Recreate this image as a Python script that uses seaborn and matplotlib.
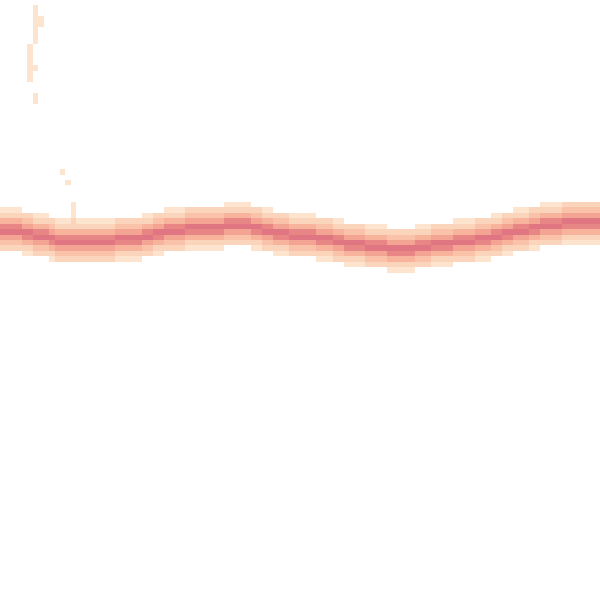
import numpy as np
import pandas as pd
import seaborn as sns
import matplotlib.pyplot as plt

# band centre (in bin rows, counted from the bottom) for each of the 110 time columns
center = [67.7, 67.7, 67.6, 67.5, 67.3, 67.1, 66.9, 66.7, 66.5, 66.2,
          65.9, 65.7, 65.6, 65.6, 65.6, 65.6, 65.6, 65.7, 65.8, 65.9,
          65.9, 66.0, 66.1, 66.2, 66.3, 66.4, 66.6, 66.9, 67.1, 67.3,
          67.5, 67.7, 67.8, 67.9, 68.0, 68.1, 68.2, 68.2, 68.3, 68.4,
          68.4, 68.5, 68.6, 68.7, 68.7, 68.5, 68.3, 68.1, 67.9, 67.6,
          67.3, 67.1, 67.0, 66.9, 66.9, 66.8, 66.7, 66.5, 66.4, 66.2,
          66.0, 65.8, 65.6, 65.4, 65.2, 65.1, 65.0, 64.9, 64.8, 64.7,
          64.6, 64.4, 64.3, 64.2, 64.3, 64.4, 64.5, 64.7, 64.8, 65.0,
          65.1, 65.2, 65.4, 65.5, 65.6, 65.8, 65.9, 66.0, 66.2, 66.4,
          66.6, 66.8, 67.1, 67.3, 67.5, 67.7, 67.9, 68.1, 68.3, 68.5,
          68.6, 68.8, 68.9, 69.0, 69.0, 69.1, 69.1, 69.2, 69.2, 69.3]

# vertical spread of the series around the centre
offsets = [-3.5, -3.0, -2.5, -2.0, -1.5, -1.0, -0.5, 0.0, 0.5, 1.0, 1.5, 2.0, 2.5, 3.0, 3.5]
weights = [1, 1, 1, 2, 2, 3, 4, 4, 4, 3, 2, 2, 1, 1, 1]

# stray samples (column, row)
stray_x = [6, 6, 6, 6, 6, 6, 6, 7, 7, 5, 5, 5, 5, 5, 5, 5, 6, 6, 6, 11, 12, 13, 13, 13, 13]
stray_y = [102.5, 103.5, 104.5, 105.5, 106.5, 107.5, 108.5, 105.5, 106.5,
           95.5, 96.5, 97.5, 98.5, 99.5, 100.5, 101.5, 97.5, 91.5, 92.5,
           78.5, 76.5, 69.5, 70.5, 71.5, 72.5]

rows = []
for c, m in enumerate(center):
    for o, w in zip(offsets, weights):
        rows.append((c + 0.5, m + o, w))
for sx, sy in zip(stray_x, stray_y):
    rows.append((sx + 0.5, sy, 1))
df = pd.DataFrame(rows, columns=["t", "value", "w"])

cmap = sns.blend_palette(["#fde4cf", "#f9bb9f", "#f09489", "#dc6f80"], as_cmap=True)

fig = plt.figure(figsize=(6, 6), dpi=100)
ax = fig.add_axes([0, 0, 1, 1])
sns.histplot(data=df, x="t", y="value", weights="w", bins=110,
             binrange=((0, 110), (0, 110)), cmap=cmap, vmin=1, vmax=8.5, ax=ax)
ax.set_xlim(0, 110)
ax.set_ylim(0, 110)
ax.axis("off")
fig.savefig("out.png", dpi=100)
